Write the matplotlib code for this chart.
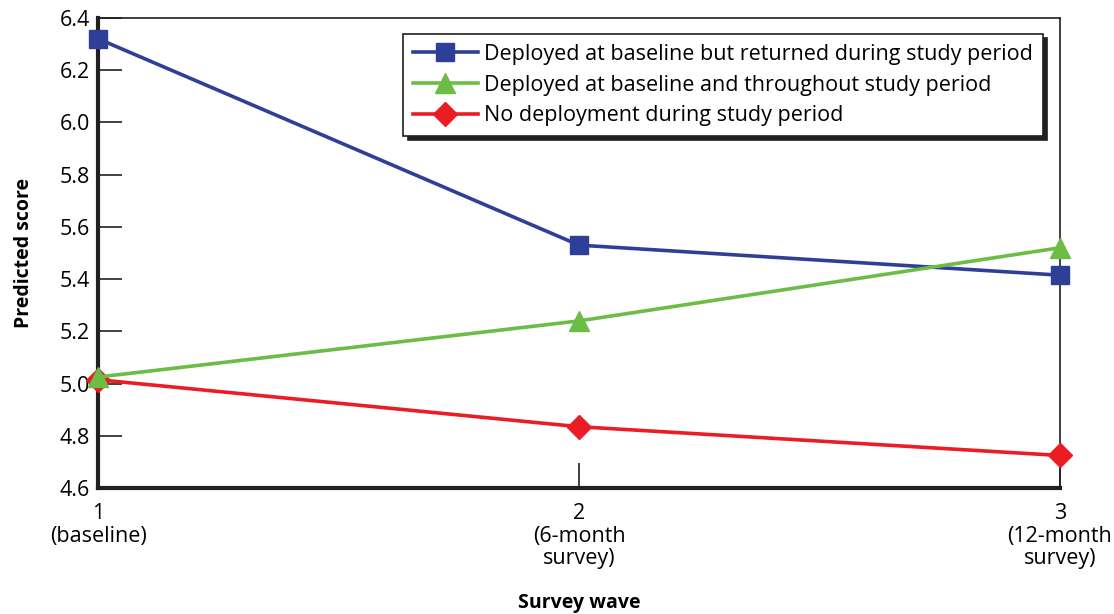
import matplotlib.pyplot as plt

plt.rcParams['font.family'] = ['Open Sans', 'DejaVu Sans']

waves = [1, 2, 3]
wave_labels = ['1\n(baseline)', '2\n(6-month\nsurvey)', '3\n(12-month\nsurvey)']
returned = [6.32, 5.53, 5.415]
throughout = [5.025, 5.24, 5.52]
no_deploy = [5.015, 4.835, 4.725]

fig = plt.figure(figsize=(11.14, 6.14), dpi=100)
ax = fig.add_axes([0.088, 0.205, 0.8635, 0.766])

ax.plot(waves, returned, color='#2e3f98', lw=2.6, marker='s', ms=13,
        label='Deployed at baseline but returned during study period', clip_on=False, zorder=3)
ax.plot(waves, throughout, color='#6cbd45', lw=2.6, marker='^', ms=15,
        label='Deployed at baseline and throughout study period', clip_on=False, zorder=4)
ax.plot(waves, no_deploy, color='#ec1c24', lw=2.6, marker='D', ms=12,
        label='No deployment during study period', clip_on=False, zorder=3)

ax.set_xlim(1, 3)
ax.set_ylim(4.6, 6.4)
ax.set_yticks([4.6, 4.8, 5.0, 5.2, 5.4, 5.6, 5.8, 6.0, 6.2, 6.4])
ax.set_yticklabels(['4.6', '4.8', '5.0', '5.2', '5.4', '5.6', '5.8', '6.0', '6.2', '6.4'])
ax.set_xticks(waves)
ax.set_xticklabels(wave_labels, linespacing=1.08)
ax.tick_params(axis='y', direction='in', length=17, width=1.2, labelsize=15.5, pad=6, color='#231f20')
ax.tick_params(axis='x', direction='in', length=18, width=1.2, labelsize=15.5, pad=11, color='#231f20')

for side in ['left', 'bottom']:
    ax.spines[side].set_linewidth(3)
    ax.spines[side].set_color('#231f20')
for side in ['top', 'right']:
    ax.spines[side].set_linewidth(1.2)
    ax.spines[side].set_color('#231f20')

ax.set_ylabel('Predicted score', fontsize=14, fontweight='bold', labelpad=18)
ax.set_xlabel('Survey wave', fontsize=14, fontweight='bold', labelpad=17)

leg = ax.legend(loc='upper right', bbox_to_anchor=(0.982, 0.965), fontsize=15.5,
                frameon=True, fancybox=False,
                shadow={'color': '#231f20', 'alpha': 1, 'ox': 3, 'oy': -3},
                edgecolor='#231f20', handlelength=3.0, handletextpad=0.3,
                labelspacing=0.45, borderpad=0.45, borderaxespad=0)
leg.get_frame().set_linewidth(1.2)

fig.savefig('out.png', dpi=100)
